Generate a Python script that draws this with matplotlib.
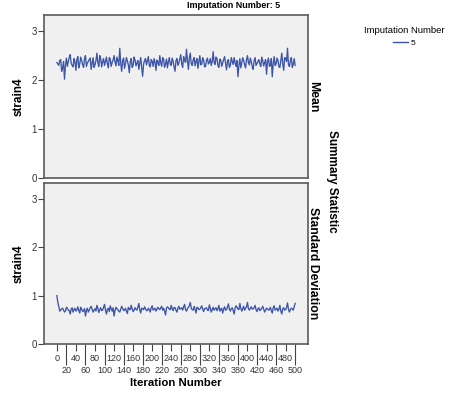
import numpy as np
import matplotlib
matplotlib.use("Agg")
import matplotlib.pyplot as plt

# values: "a" lists sit at iterations 0,4,...,500,
# "b" lists at iterations 2,6,...,498
mean_a = [2.36, 2.30, 2.42, 2.25, 2.02, 2.45, 2.38, 2.52, 2.30, 2.44,
          2.20, 2.48, 2.33, 2.40, 2.26, 2.50, 2.35, 2.42, 2.22, 2.46,
          2.31, 2.55, 2.28, 2.44, 2.38, 2.30, 2.47, 2.25, 2.43, 2.36,
          2.50, 2.29, 2.40, 2.65, 2.18, 2.45, 2.33, 2.39, 2.15, 2.44,
          2.30, 2.41, 2.35, 2.22, 2.46, 2.08, 2.40, 2.31, 2.48, 2.27,
          2.38, 2.44, 2.20, 2.36, 2.50, 2.28, 2.42, 2.33, 2.25, 2.46,
          2.30, 2.38, 2.18, 2.44, 2.35, 2.52, 2.26, 2.40, 2.63, 2.22,
          2.55, 2.30, 2.46, 2.38, 2.24, 2.50, 2.33, 2.41, 2.28, 2.45,
          2.36, 2.30, 2.58, 2.32, 2.44, 2.26, 2.40, 2.35, 2.48, 2.21,
          2.42, 2.30, 2.38, 2.46, 2.28, 2.07, 2.44, 2.35, 2.40, 2.25,
          2.50, 2.31, 2.38, 2.22, 2.46, 2.34, 2.42, 2.28, 2.40, 2.36,
          2.12, 2.45, 2.30, 2.07, 2.48, 2.33, 2.40, 2.26, 2.55, 2.20,
          2.44, 2.65, 2.28, 2.46, 2.32, 2.30]
mean_b = [2.33, 2.40, 2.18, 2.38, 2.30, 2.28, 2.46, 2.35, 2.27, 2.38,
          2.42, 2.25, 2.47, 2.32, 2.44, 2.28, 2.38, 2.45, 2.34, 2.26,
          2.40, 2.36, 2.50, 2.27, 2.44, 2.38, 2.33, 2.46, 2.28, 2.41,
          2.37, 2.47, 2.30, 2.35, 2.40, 2.24, 2.46, 2.31, 2.38, 2.26,
          2.47, 2.29, 2.40, 2.35, 2.25, 2.33, 2.44, 2.39, 2.30, 2.42,
          2.28, 2.36, 2.41, 2.30, 2.35, 2.46, 2.26, 2.43, 2.38, 2.32,
          2.45, 2.27, 2.40, 2.30, 2.44, 2.33, 2.48, 2.36, 2.40, 2.46,
          2.33, 2.41, 2.29, 2.44, 2.37, 2.31, 2.46, 2.27, 2.40, 2.33,
          2.44, 2.38, 2.36, 2.47, 2.30, 2.43, 2.28, 2.42, 2.34, 2.38,
          2.26, 2.46, 2.32, 2.35, 2.40, 2.30, 2.25, 2.46, 2.31, 2.42,
          2.36, 2.45, 2.27, 2.40, 2.30, 2.38, 2.33, 2.47, 2.29, 2.42,
          2.38, 2.28, 2.44, 2.34, 2.30, 2.45, 2.27, 2.41, 2.33, 2.46,
          2.38, 2.31, 2.40, 2.26, 2.44]
sd_a = [1.00, 0.78, 0.70, 0.74, 0.66, 0.76, 0.70, 0.62, 0.75, 0.71,
        0.68, 0.77, 0.64, 0.72, 0.69, 0.58, 0.74, 0.70, 0.78, 0.66,
        0.73, 0.80, 0.65, 0.75, 0.70, 0.82, 0.62, 0.74, 0.79, 0.68,
        0.58, 0.76, 0.71, 0.66, 0.78, 0.69, 0.74, 0.63, 0.72, 0.80,
        0.67, 0.75, 0.70, 0.84, 0.64, 0.73, 0.77, 0.69, 0.74, 0.66,
        0.79, 0.72, 0.68, 0.76, 0.71, 0.78, 0.74, 0.60, 0.77, 0.72,
        0.80, 0.69, 0.75, 0.66, 0.78, 0.73, 0.70, 0.82, 0.68, 0.76,
        0.86, 0.71, 0.78, 0.64, 0.75, 0.72, 0.79, 0.67, 0.74, 0.70,
        0.81, 0.66, 0.76, 0.73, 0.69, 0.80, 0.72, 0.64, 0.77, 0.71,
        0.83, 0.68, 0.75, 0.62, 0.79, 0.72, 0.84, 0.68, 0.78, 0.74,
        0.86, 0.70, 0.77, 0.73, 0.80, 0.67, 0.75, 0.71, 0.78, 0.66,
        0.74, 0.70, 0.76, 0.64, 0.79, 0.72, 0.68, 0.80, 0.62, 0.75,
        0.71, 0.85, 0.66, 0.74, 0.70, 0.84]
sd_b = [0.86, 0.68, 0.73, 0.70, 0.68, 0.74, 0.69, 0.72, 0.66, 0.74,
        0.71, 0.69, 0.76, 0.67, 0.73, 0.70, 0.66, 0.75, 0.72, 0.70,
        0.68, 0.74, 0.71, 0.69, 0.76, 0.70, 0.72, 0.67, 0.73, 0.75,
        0.69, 0.73, 0.68, 0.72, 0.74, 0.70, 0.68, 0.76, 0.71, 0.73,
        0.70, 0.72, 0.76, 0.70, 0.74, 0.71, 0.73, 0.69, 0.71, 0.75,
        0.70, 0.74, 0.72, 0.73, 0.75, 0.70, 0.68, 0.74, 0.75, 0.71,
        0.73, 0.76, 0.70, 0.74, 0.72, 0.75, 0.77, 0.71, 0.73, 0.79,
        0.74, 0.70, 0.72, 0.76, 0.71, 0.75, 0.72, 0.73, 0.75, 0.69,
        0.74, 0.71, 0.70, 0.75, 0.73, 0.68, 0.74, 0.72, 0.70, 0.76,
        0.72, 0.73, 0.69, 0.74, 0.76, 0.71, 0.74, 0.73, 0.70, 0.77,
        0.73, 0.74, 0.72, 0.75, 0.71, 0.73, 0.69, 0.74, 0.72, 0.70,
        0.73, 0.71, 0.69, 0.75, 0.70, 0.74, 0.72, 0.68, 0.73, 0.70,
        0.76, 0.72, 0.71, 0.73, 0.77]
iterations = np.arange(0, 501, 2)
panel_names = ["Mean", "Standard Deviation"]
yticks = [0, 1, 2, 3]
xticks_row1 = list(range(0, 481, 40))
xticks_row2 = list(range(20, 501, 40))


def interleave(a, b):
    out = np.empty(len(a) + len(b))
    out[0::2] = a
    out[1::2] = b
    return out


series = [interleave(mean_a, mean_b), interleave(sd_a, sd_b)]

line_color = "#3c55a8"
face = "#f0f0f0"
edge = "#5a5a5a"
fam = ["Liberation Sans", "DejaVu Sans"]

fig = plt.figure(figsize=(4.52, 3.97), dpi=100)
ax_top = fig.add_axes([44 / 452, 1 - 178 / 397, 264 / 452, 163 / 397])
ax_bot = fig.add_axes([44 / 452, 1 - 344 / 397, 264 / 452, 161 / 397])

for ax, vals, name in zip([ax_top, ax_bot], series, panel_names):
    ax.set_facecolor(face)
    ax.plot(iterations, vals, color=line_color, lw=0.95)
    ax.set_xlim(-27, 527)
    ax.set_ylim(0, 3.33)
    ax.set_yticks(yticks)
    ax.set_yticklabels([str(t) for t in yticks], family=fam, fontsize=7, color="#333333")
    ax.tick_params(axis="y", length=4, width=0.8, color="#444444", pad=1)
    for sp in ax.spines.values():
        sp.set_color(edge)
        sp.set_linewidth(1.2)
    ax.set_ylabel("strain4", fontsize=8.5, fontweight="bold", family=fam)
    ax.yaxis.set_label_coords(-0.072, 0.5)
    ax.text(1.02, 0.5, name, transform=ax.transAxes, rotation=-90,
            ha="center", va="center", fontsize=8.8, fontweight="bold", family=fam)

ax_top.set_xticks([])
ax_bot.set_xticks(xticks_row1)
ax_bot.set_xticklabels([str(t) for t in xticks_row1], family=fam, fontsize=6.5, color="#333333")
ax_bot.set_xticks(xticks_row2, minor=True)
ax_bot.set_xticklabels([str(t) for t in xticks_row2], minor=True, family=fam,
                       fontsize=6.5, color="#333333")
ax_bot.tick_params(axis="x", which="major", length=5, width=0.8, color="#444444", pad=2)
ax_bot.tick_params(axis="x", which="minor", length=15, width=0.8, color="#444444", pad=1)

fig.text(176 / 452, 1 - 383 / 397, "Iteration Number", ha="center", va="center",
         fontsize=8.2, fontweight="bold", family=fam)
fig.text(234 / 452, 1 - 6 / 397, "Imputation Number: 5", ha="center", va="center",
         fontsize=6.5, fontweight="bold", family=fam)
fig.text(332 / 452, 1 - 181 / 397, "Summary Statistic", ha="center", va="center",
         rotation=-90, fontsize=8.5, fontweight="bold", family=fam)

handle = plt.Line2D([], [], color=line_color, lw=1)
leg = fig.legend([handle], ["5"], title="Imputation Number", loc="upper center",
                 bbox_to_anchor=(404 / 452, 1 - 18 / 397), frameon=False,
                 alignment="center", handlelength=1.8, handletextpad=0.3,
                 prop={"family": fam, "size": 6},
                 title_fontproperties={"family": fam, "size": 6.8})

fig.savefig("out.png", dpi=100)
